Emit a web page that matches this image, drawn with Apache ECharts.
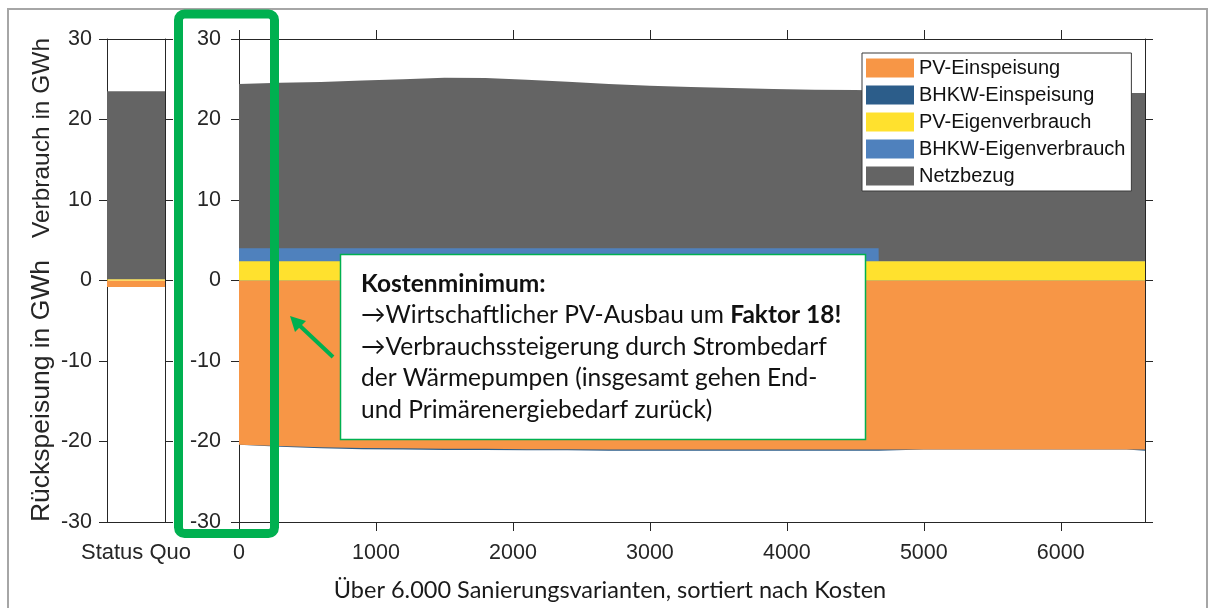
<!DOCTYPE html>
<html>
<head>
<meta charset="utf-8">
<script src="https://cdn.jsdelivr.net/npm/echarts@6/dist/echarts.min.js"></script>
<style>
html,body{margin:0;padding:0;background:#fff;}
#chart{width:1215px;height:608px;}
</style>
</head>
<body>
<div id="chart"></div>
<script>
// ---------- data ----------
const seriesNames = ['PV-Einspeisung', 'BHKW-Einspeisung', 'PV-Eigenverbrauch', 'BHKW-Eigenverbrauch', 'Netzbezug'];
const statusCategories = ['Status Quo'];
// Status Quo values (GWh)
const sqPvEinspeisung = [-0.8];
const sqBhkwEinspeisung = [0];
const sqPvEigenverbrauch = [0.15];
const sqBhkwEigenverbrauch = [0];
const sqNetzbezug = [23.35];
// variants sorted by cost (x = variant index)
const variantX = [0, 300, 600, 900, 1200, 1500, 1800, 2100, 2400, 2700, 3000, 3300, 3600, 3900, 4200, 4500, 4670, 4671, 5000, 5300, 5600, 5900, 6200, 6480, 6481, 6615];
const pvEinspeisung = [-20.4, -20.55, -20.7, -20.8, -20.85, -20.9, -20.9, -20.95, -20.95, -21.0, -21.0, -21.0, -21.0, -21.0, -21.0, -21.0, -21.0, -21.0, -21.0, -21.0, -21.0, -21.0, -21.0, -21.0, -21.0, -21.0];
const bhkwEinspeisung = [0, -0.1, -0.15, -0.15, -0.15, -0.15, -0.15, -0.15, -0.15, -0.15, -0.15, -0.15, -0.15, -0.15, -0.15, -0.15, -0.15, 0, 0, 0, 0, 0, 0, 0, -0.15, -0.15];
const pvEigenverbrauch = [2.4, 2.4, 2.4, 2.4, 2.4, 2.4, 2.4, 2.4, 2.4, 2.4, 2.4, 2.4, 2.4, 2.4, 2.4, 2.4, 2.4, 2.4, 2.4, 2.4, 2.4, 2.4, 2.4, 2.4, 2.4, 2.4];
const bhkwEigenverbrauch = [1.6, 1.6, 1.6, 1.6, 1.6, 1.6, 1.6, 1.6, 1.6, 1.6, 1.6, 1.6, 1.6, 1.6, 1.6, 1.6, 1.6, 0, 0, 0, 0, 0, 0, 0, 0, 0];
const netzbezug = [20.4, 20.55, 20.65, 20.85, 21.0, 21.2, 21.15, 20.95, 20.7, 20.4, 20.2, 20.05, 19.9, 19.8, 19.7, 19.65, 19.6, 21.2, 21.15, 21.1, 21.05, 21.0, 20.95, 20.9, 20.9, 20.9];
const yTicks = [-30, -20, -10, 0, 10, 20, 30];
const xTicks = [0, 1000, 2000, 3000, 4000, 5000, 6000];

const colors = {
  'PV-Einspeisung': '#F79646',
  'BHKW-Einspeisung': '#2C5D8A',
  'PV-Eigenverbrauch': '#FFE12E',
  'BHKW-Eigenverbrauch': '#4F81BD',
  'Netzbezug': '#646464'
};

// cumulative boundaries (overlaid areas from zero)
const cumPvEig = pvEigenverbrauch.map(v => v);
const cumBhkwEig = pvEigenverbrauch.map((v, i) => v + bhkwEigenverbrauch[i]);
const cumNetz = pvEigenverbrauch.map((v, i) => v + bhkwEigenverbrauch[i] + netzbezug[i]);
const cumPvEin = pvEinspeisung.map(v => v);
const cumBhkwEin = pvEinspeisung.map((v, i) => v + bhkwEinspeisung[i]);
const pair = arr => variantX.map((x, i) => [x, arr[i]]);

const axisColor = '#262626';
const labelFont = 'Liberation Sans, Arial, sans-serif';

function yAx(grid, pos, showLabel, margin) {
  return {
    type: 'value', gridIndex: grid, position: pos, min: -30, max: 30, interval: 10,
    axisLine: {show: true, onZero: false, lineStyle: {color: axisColor, width: 1}},
    axisTick: {show: true, inside: false, length: 8, lineStyle: {color: axisColor}},
    axisLabel: {show: showLabel, fontSize: 21.5, color: axisColor, fontFamily: labelFont, margin: margin},
    splitLine: {show: false}
  };
}

function area(name, data, z) {
  return {
    name: name, type: 'line', xAxisIndex: 2, yAxisIndex: 2, data: pair(data),
    symbol: 'none', showSymbol: false, silent: true, z: z,
    lineStyle: {width: 0}, itemStyle: {color: colors[name]},
    areaStyle: {color: colors[name], opacity: 1}
  };
}
function sqBar(name, data) {
  return {
    name: name, type: 'bar', xAxisIndex: 0, yAxisIndex: 0, stack: 'sq', data: data,
    barWidth: '100%', silent: true, itemStyle: {color: colors[name]}
  };
}

const option = {
  animation: false,
  backgroundColor: '#fff',
  grid: [
    {left: 107, top: 39, width: 58, height: 483},
    {left: 239, top: 39, width: 906, height: 483}
  ],
  xAxis: [
    {type: 'category', gridIndex: 0, position: 'bottom', data: statusCategories,
     axisLine: {show: true, onZero: false, lineStyle: {color: axisColor}},
     axisTick: {show: false},
     axisLabel: {fontSize: 22, color: axisColor, fontFamily: labelFont, margin: 20}},
    {type: 'category', gridIndex: 0, position: 'top', data: statusCategories,
     axisLine: {show: true, onZero: false, lineStyle: {color: axisColor}},
     axisTick: {show: false}, axisLabel: {show: false}},
    {type: 'value', gridIndex: 1, position: 'bottom', min: 0, max: 6615, interval: 1000,
     axisLine: {show: true, onZero: false, lineStyle: {color: axisColor}},
     axisTick: {show: true, inside: false, length: 9, customValues: xTicks, lineStyle: {color: axisColor}},
     axisLabel: {fontSize: 21.5, color: axisColor, fontFamily: labelFont, margin: 20, customValues: xTicks,
                 formatter: v => (v % 1000 === 0 ? String(v) : '')},
     splitLine: {show: false}},
    {type: 'value', gridIndex: 1, position: 'top', min: 0, max: 6615, interval: 1000,
     axisLine: {show: true, onZero: false, lineStyle: {color: axisColor}},
     axisTick: {show: true, inside: false, length: 9, customValues: xTicks, lineStyle: {color: axisColor}},
     axisLabel: {show: false}, splitLine: {show: false}}
  ],
  yAxis: [
    yAx(0, 'left', true, 15),
    yAx(0, 'right', false, 8),
    yAx(1, 'left', true, 18),
    yAx(1, 'right', false, 8)
  ],
  legend: {
    orient: 'vertical', left: 862, top: 53,
    padding: [5, 6, 5, 4],
    itemWidth: 48, itemHeight: 19, itemGap: 7,
    icon: 'rect', selectedMode: false,
    backgroundColor: '#fff', borderColor: '#3a3a3a', borderWidth: 1,
    textStyle: {fontSize: 20, lineHeight: 19, color: '#111', fontFamily: labelFont},
    data: seriesNames.map(n => ({name: n, icon: 'rect', itemStyle: {color: colors[n]}}))
  },
  series: [
    sqBar('PV-Einspeisung', sqPvEinspeisung),
    sqBar('BHKW-Einspeisung', sqBhkwEinspeisung),
    sqBar('PV-Eigenverbrauch', sqPvEigenverbrauch),
    sqBar('BHKW-Eigenverbrauch', sqBhkwEigenverbrauch),
    sqBar('Netzbezug', sqNetzbezug),
    area('Netzbezug', cumNetz, 2),
    area('BHKW-Eigenverbrauch', cumBhkwEig, 3),
    area('PV-Eigenverbrauch', cumPvEig, 4),
    area('BHKW-Einspeisung', cumBhkwEin, 2),
    area('PV-Einspeisung', cumPvEin, 3)
  ],
  graphic: [
    {type: 'rect', z: 0, silent: true, shape: {x: 8, y: 9, width: 1199, height: 640},
     style: {fill: 'none', stroke: '#A6A6A6', lineWidth: 2}},
    {type: 'text', silent: true, x: 42, y: 138, rotation: Math.PI / 2,
     style: {text: 'Verbrauch in GWh', font: '24.5px Liberation Sans, Arial, sans-serif', fill: axisColor, align: 'center', verticalAlign: 'middle'}},
    {type: 'text', silent: true, x: 42, y: 391, rotation: Math.PI / 2,
     style: {text: 'Rückspeisung in GWh', font: '26.5px Liberation Sans, Arial, sans-serif', fill: axisColor, align: 'center', verticalAlign: 'middle'}},
    {type: 'text', silent: true, x: 610, y: 590,
     style: {text: 'Über 6.000 Sanierungsvarianten, sortiert nach Kosten', font: '23.5px Lato, sans-serif', fill: '#1a1a1a', align: 'center', verticalAlign: 'middle'}},
    {type: 'rect', z: 100, silent: true, shape: {x: 340.5, y: 254.5, width: 525, height: 185},
     style: {fill: '#fff', stroke: '#00B050', lineWidth: 1.5}},
    {type: 'text', z: 101, silent: true, x: 361, y: 268,
     style: {
       text: '{b|Kostenminimum:}\n→Wirtschaftlicher PV-Ausbau um {b|Faktor 18!}\n→Verbrauchssteigerung durch Strombedarf\nder Wärmepumpen (insgesamt gehen End-\nund Primärenergiebedarf zurück)',
       font: '24.5px Lato, sans-serif', fill: '#111', lineHeight: 31.5,
       rich: {b: {fontWeight: 'bold', fontSize: 24.5, fontFamily: 'Lato, sans-serif', lineHeight: 31.5, fill: '#111'}}
     }},
    {type: 'line', z: 100, silent: true, shape: {x1: 333, y1: 357, x2: 298, y2: 324},
     style: {stroke: '#00B050', lineWidth: 4}},
    {type: 'polygon', z: 100, silent: true, shape: {points: [[290, 316], [306, 321], [295, 332]]},
     style: {fill: '#00B050'}},
    {type: 'rect', z: 102, silent: true, shape: {x: 178.5, y: 14, width: 96, height: 519.5, r: 6},
     style: {fill: 'none', stroke: '#00B050', lineWidth: 9}}
  ]
};

const chart = echarts.init(document.getElementById('chart'), null, {renderer: 'canvas'});
chart.setOption(option);
</script>
</body>
</html>
